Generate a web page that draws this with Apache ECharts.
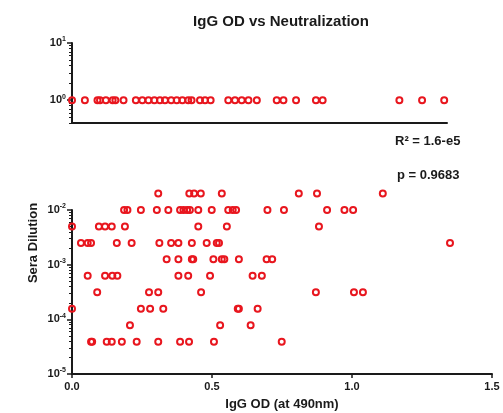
<!DOCTYPE html>
<html>
<head>
<meta charset="utf-8">
<script src="https://cdn.jsdelivr.net/npm/echarts@6/dist/echarts.min.js"></script>
<style>
  html, body { margin: 0; padding: 0; background: #fff; }
  #main { width: 503px; height: 413px; }
</style>
</head>
<body>
<div id="main"></div>
<script>
// IgG OD (at 490nm) read per sera dilution row
const odNoNeut = [0, 0.046, 0.091, 0.1, 0.121, 0.145, 0.155, 0.184, 0.228, 0.251, 0.273, 0.294, 0.314,
  0.332, 0.354, 0.374, 0.394, 0.415, 0.427, 0.457, 0.475, 0.495, 0.558, 0.582, 0.606, 0.63, 0.66,
  0.731, 0.755, 0.8, 0.871, 0.895, 1.169, 1.25, 1.329];
const od50 = [0.308, 0.419, 0.436, 0.46, 0.535, 0.81, 0.875, 1.11];
const od100 = [0.186, 0.198, 0.246, 0.303, 0.344, 0.386, 0.398, 0.411, 0.421, 0.451, 0.499, 0.558,
  0.574, 0.586, 0.698, 0.757, 0.911, 0.973, 1.004];
const od200 = [0, 0.096, 0.118, 0.142, 0.189, 0.451, 0.553, 0.882];
const od400 = [0.032, 0.056, 0.068, 0.16, 0.213, 0.312, 0.354, 0.38, 0.428, 0.481, 0.517, 0.525, 1.35];
const od800 = [0.338, 0.38, 0.428, 0.433, 0.505, 0.535, 0.544, 0.596, 0.695, 0.715];
const od1600 = [0.056, 0.118, 0.144, 0.162, 0.38, 0.415, 0.493, 0.645, 0.678];
const od3200 = [0.09, 0.275, 0.308, 0.461, 0.871, 1.007, 1.039];
const od6400 = [0, 0.246, 0.279, 0.326, 0.592, 0.596, 0.663];
const od12800 = [0.207, 0.529, 0.638];
const od25600 = [0.068, 0.072, 0.124, 0.142, 0.178, 0.231, 0.308, 0.386, 0.418, 0.507, 0.749];

const dilutionRows = [
  [1 / 50, od50], [1 / 100, od100], [1 / 200, od200], [1 / 400, od400], [1 / 800, od800],
  [1 / 1600, od1600], [1 / 3200, od3200], [1 / 6400, od6400], [1 / 12800, od12800], [1 / 25600, od25600]
];

const xTicks = [0, 0.5, 1.0, 1.5];
const topMajor = [1, 10];
const bottomMajor = [1e-5, 1e-4, 1e-3, 1e-2];

const FONT = 'Liberation Sans, Arial, sans-serif';
const RED = '#e8161e';
const INK = '#1a1a1a';

// log minor ticks
const minorsOf = (decades) => {
  const out = [];
  decades.forEach(d => { for (let k = 2; k <= 9; k++) out.push(k * d); });
  return out;
};
const topMinor = minorsOf([0.1, 1]).filter(v => v > 0.39);
const bottomMinor = minorsOf([1e-5, 1e-4, 1e-3]);

const topData = odNoNeut.map(x => [x, 1]);
const bottomData = [];
dilutionRows.forEach(([d, xs]) => xs.forEach(x => bottomData.push([x, d])));

const powLabel = v => '{b|10}{s|' + Math.round(Math.log10(v)) + '}';
const richLbl = {
  b: { fontSize: 11, fontWeight: 'bold', color: INK, fontFamily: FONT, lineHeight: 14 },
  s: { fontSize: 7, fontWeight: 'bold', color: INK, fontFamily: FONT, verticalAlign: 'top', lineHeight: 8 }
};

const majorY = (gridIndex, min, max, vals) => ({
  type: 'log', gridIndex, min, max, logBase: 10, position: 'left',
  axisLine: { show: true, lineStyle: { color: INK, width: 2 } },
  axisTick: { show: true, length: 5, customValues: vals, lineStyle: { color: INK, width: 1.5 } },
  axisLabel: { show: true, customValues: vals, formatter: powLabel, rich: richLbl, margin: 6 },
  splitLine: { show: false }
});
const minorY = (gridIndex, min, max, vals) => ({
  type: 'log', gridIndex, min, max, logBase: 10, position: 'left', offset: 0,
  axisLine: { show: false },
  axisTick: { show: true, length: 3, customValues: vals, lineStyle: { color: INK, width: 1 } },
  axisLabel: { show: false },
  splitLine: { show: false }
});

const chart = echarts.init(document.getElementById('main'));
chart.setOption({
  animation: false,
  backgroundColor: '#fff',
  grid: [
    { left: 72, right: 56, top: 43, height: 80, outerBoundsMode: 'none' },
    { left: 72, right: 11, top: 210, bottom: 39, outerBoundsMode: 'none' }
  ],
  xAxis: [
    {
      type: 'value', gridIndex: 0, min: 0, max: 1.339,
      axisLine: { show: true, lineStyle: { color: INK, width: 2 } },
      axisTick: { show: false }, axisLabel: { show: false }, splitLine: { show: false }
    },
    {
      type: 'value', gridIndex: 1, min: 0, max: 1.5, interval: 0.5,
      axisLine: { show: true, lineStyle: { color: INK, width: 2 } },
      axisTick: { show: true, length: 4, customValues: xTicks, lineStyle: { color: INK, width: 1.5 } },
      axisLabel: {
        customValues: xTicks, formatter: v => v.toFixed(1), margin: 7,
        fontSize: 11, fontWeight: 'bold', color: INK, fontFamily: FONT
      },
      splitLine: { show: false },
      name: 'IgG OD (at 490nm)', nameLocation: 'middle', nameGap: 24,
      nameTextStyle: { fontSize: 13, fontWeight: 'bold', color: INK, fontFamily: FONT }
    }
  ],
  yAxis: [
    majorY(0, Math.pow(10, -0.4), 10, topMajor),
    minorY(0, Math.pow(10, -0.4), 10, topMinor),
    majorY(1, 1e-5, 1e-2, bottomMajor),
    minorY(1, 1e-5, 1e-2, bottomMinor)
  ],
  graphic: [
    {
      type: 'text', x: 281, y: 22,
      style: { text: 'IgG OD vs Neutralization', align: 'center', verticalAlign: 'middle',
        fontSize: 15, fontWeight: 'bold', fill: INK, fontFamily: FONT }
    },
    {
      type: 'text', x: 33, y: 243, rotation: Math.PI / 2,
      style: { text: 'Sera Dilution', align: 'center', verticalAlign: 'middle',
        fontSize: 13, fontWeight: 'bold', fill: INK, fontFamily: FONT }
    },
    {
      type: 'text', x: 395, y: 141,
      style: { text: 'R\u00b2 = 1.6-e5', align: 'left', verticalAlign: 'middle',
        fontSize: 13, fontWeight: 'bold', fill: INK, fontFamily: FONT }
    },
    {
      type: 'text', x: 397, y: 175,
      style: { text: 'p = 0.9683', align: 'left', verticalAlign: 'middle',
        fontSize: 13, fontWeight: 'bold', fill: INK, fontFamily: FONT }
    }
  ],
  series: [
    {
      type: 'scatter', xAxisIndex: 0, yAxisIndex: 0, data: topData, clip: false,
      symbol: 'circle', symbolSize: 6,
      itemStyle: { color: 'rgba(0,0,0,0)', borderColor: RED, borderWidth: 2, opacity: 1 }
    },
    {
      type: 'scatter', xAxisIndex: 1, yAxisIndex: 2, data: bottomData, clip: false,
      symbol: 'circle', symbolSize: 6,
      itemStyle: { color: 'rgba(0,0,0,0)', borderColor: RED, borderWidth: 2, opacity: 1 }
    }
  ]
});
</script>
</body>
</html>
